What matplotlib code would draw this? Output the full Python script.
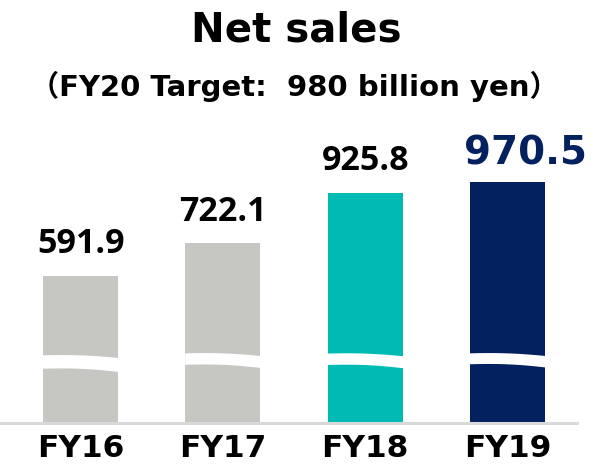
import numpy as np
import matplotlib.pyplot as plt

# Data
years = ["FY16", "FY17", "FY18", "FY19"]
sales = [591.9, 722.1, 925.8, 970.5]
labels = ["591.9", "722.1", "925.8", "970.5"]

# Colors
bar_colors = ["#C6C7C2", "#C6C7C2", "#00BBB4", "#03215F"]
navy = "#03215F"

fig = plt.figure(figsize=(5.93, 4.67), dpi=100)
ax = fig.add_axes([0, 44 / 467, 1, 423 / 467])

x = np.arange(len(years))
width = 0.527
ax.bar(x, sales, width=width, color=bar_colors, zorder=2)

ax.set_xlim(-0.566, 3.60)
ax.set_ylim(0, 1700)

# Baseline
ax.plot([-0.566, 3.49], [0, 0], color="#D9D9D9", lw=2.2, zorder=3, clip_on=False)

# Wavy break across each bar
break_top = [274, 282, 281, 282]
break_bot = [220, 236, 235, 238]
for i in range(len(years)):
    xs = np.linspace(x[i] - width / 2 - 0.005, x[i] + width / 2 + 0.005, 60)
    t = (xs - xs[0]) / (xs[-1] - xs[0])
    drop = 11 * t**2 - 2.5 * np.sin(np.pi * t)
    ax.fill_between(xs, break_bot[i] - drop * 1.2, break_top[i] - drop,
                    color="white", lw=0, zorder=4)

# Value labels
for i in range(len(years)):
    if i == 3:
        ax.annotate(labels[i], (x[i], sales[i]), xytext=(12.6, 20),
                    textcoords="offset points", ha="center", va="center",
                    fontsize=28, fontweight="bold", color=navy,
                    family="DejaVu Sans")
    else:
        ax.annotate(labels[i], (x[i], sales[i]), xytext=(0, 22.5),
                    textcoords="offset points", ha="center", va="center",
                    fontsize=24.5, fontweight="bold", color="black",
                    family="Open Sans")

ax.set_xticks(x)
ax.set_xticklabels(years, fontsize=22.5, fontweight="bold", family="DejaVu Sans")
ax.tick_params(axis="x", length=0, pad=8)
ax.set_yticks([])
for s in ax.spines.values():
    s.set_visible(False)

# Titles
fig.text(0.5, 1 - 30 / 467, "Net sales", ha="center", va="center",
         fontsize=29, fontweight="bold", family="DejaVu Sans")
fig.text(294 / 593, 1 - 86 / 467, "（FY20 Target:  980 billion yen）",
         ha="center", va="center", fontsize=21, fontweight="bold",
         family=["DejaVu Sans", "Noto Sans CJK JP"])

fig.savefig("out.png", dpi=100)
